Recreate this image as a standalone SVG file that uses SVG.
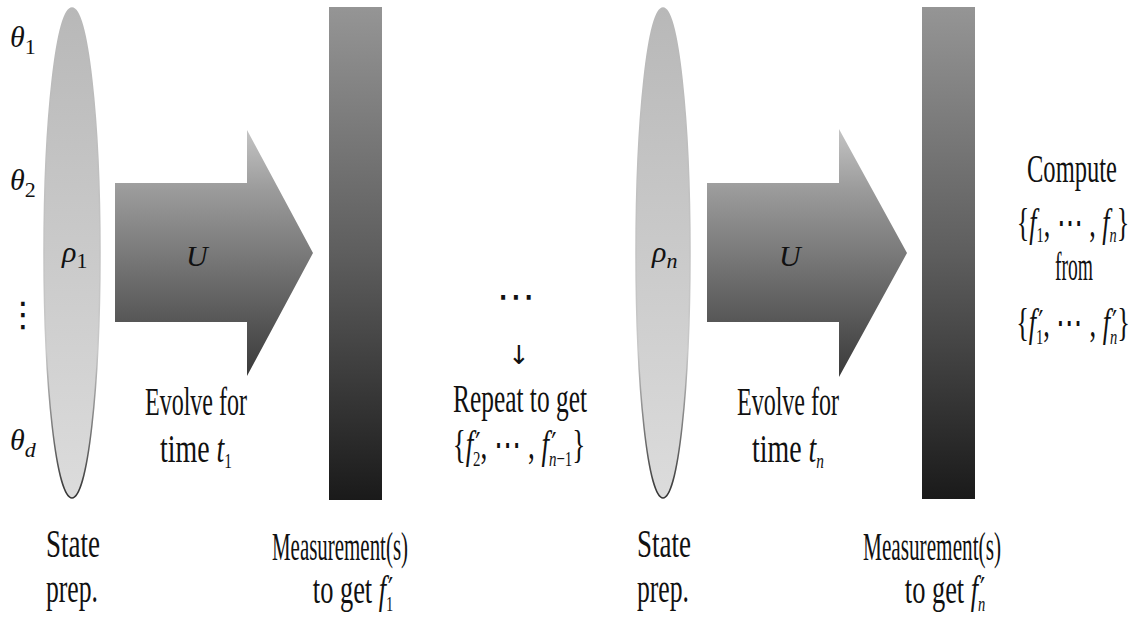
<svg xmlns="http://www.w3.org/2000/svg" width="1146" height="622" viewBox="0 0 1146 622">
<style>
.t{font-family:"Liberation Serif","Times New Roman",serif;font-size:40px;fill:#111}
.m{font-family:"Liberation Serif","Times New Roman",serif;font-style:italic;font-size:30px;fill:#111}
.i{font-style:italic}
.sb{font-size:22px;font-style:normal}
.si{font-size:22px;font-style:italic}
.pr{font-family:"DejaVu Sans",sans-serif;font-size:34px;font-style:normal}
.sym{font-family:"DejaVu Sans",sans-serif;fill:#111}
.ell{fill:url(#gEll);stroke:url(#gEllS);stroke-width:1.5}
.arr{fill:url(#gArr)}
.bar{fill:url(#gBar)}
</style>
<defs>
<linearGradient id="gEll" x1="0" y1="0" x2="0" y2="1">
<stop offset="0" stop-color="#b8b8b8"/>
<stop offset="1" stop-color="#dcdcdc"/>
</linearGradient>
<linearGradient id="gEllS" x1="0" y1="0" x2="0" y2="1">
<stop offset="0" stop-color="#b8b8b8"/>
<stop offset="0.7" stop-color="#c8c8c8"/>
<stop offset="1" stop-color="#333"/>
</linearGradient>
<linearGradient id="gArr" x1="0" y1="0" x2="0" y2="1">
<stop offset="0" stop-color="#c4c4c4"/>
<stop offset="0.25" stop-color="#9a9a9a"/>
<stop offset="1" stop-color="#3a3a3a"/>
</linearGradient>
<linearGradient id="gBar" x1="0" y1="0" x2="0" y2="1">
<stop offset="0" stop-color="#959595"/>
<stop offset="0.5" stop-color="#5e5e5e"/>
<stop offset="1" stop-color="#1a1a1a"/>
</linearGradient>
</defs>

<g id="params">
<text class="m" x="10" y="47">θ<tspan class="sb" dy="7">1</tspan></text>
<text class="m" x="10" y="190">θ<tspan class="sb" dy="7">2</tspan></text>
<text class="sym" x="6" y="326" font-size="34">⋮</text>
<text class="m" x="10" y="450">θ<tspan class="si" dy="7">d</tspan></text>
</g>

<g id="state1">
<ellipse class="ell" cx="72" cy="253" rx="28" ry="245"/>
<text class="m" x="62" y="262">ρ<tspan class="sb" dy="6">1</tspan></text>
<text class="t" x="73" y="557" text-anchor="middle" textLength="54" lengthAdjust="spacingAndGlyphs">State</text>
<text class="t" x="72" y="602" text-anchor="middle" textLength="52" lengthAdjust="spacingAndGlyphs">prep.</text>
</g>

<g id="evolve1">
<polygon class="arr" points="115,183 247,183 247,130 313,253 247,376 247,322 115,322"/>
<text class="m" x="186" y="266" font-size="34">U</text>
<text class="t" x="196" y="415" text-anchor="middle" textLength="102" lengthAdjust="spacingAndGlyphs">Evolve for</text>
<text class="t" x="196" y="462" text-anchor="middle" textLength="72" lengthAdjust="spacingAndGlyphs">time <tspan class="i">t</tspan><tspan class="sb" dy="6">1</tspan></text>
</g>

<g id="measure1">
<rect class="bar" x="329" y="7" width="53" height="493"/>
<text class="t" x="340" y="560" text-anchor="middle" textLength="136" lengthAdjust="spacingAndGlyphs">Measurement(s)</text>
<text class="t" text-anchor="middle" transform="translate(353,603) scale(0.66,1)">to get <tspan class="i">f</tspan><tspan class="pr" dx="3" dy="-1">′</tspan><tspan class="sb" dx="-11" dy="9">1</tspan></text>
</g>

<g id="repeat">
<text class="sym" x="516" y="309" font-size="38" text-anchor="middle">⋯</text>
<text class="sym" x="519" y="364" font-size="26" text-anchor="middle">↓</text>
<text class="t" x="520" y="412" text-anchor="middle" textLength="134" lengthAdjust="spacingAndGlyphs">Repeat to get</text>
<text class="t" text-anchor="middle" transform="translate(519,458) scale(0.68,1)">{<tspan class="i">f</tspan><tspan class="pr" dx="3" dy="-1">′</tspan><tspan class="sb" dx="-11" dy="9">2</tspan><tspan dy="-8">, ⋯ , </tspan><tspan class="i">f</tspan><tspan class="pr" dx="3" dy="-1">′</tspan><tspan class="si" dx="-11" dy="9">n</tspan><tspan class="sb">−1</tspan><tspan dy="-8">}</tspan></text>
</g>

<g id="stateN">
<ellipse class="ell" cx="663" cy="253" rx="27" ry="245"/>
<text class="m" x="652" y="262">ρ<tspan class="si" dy="6">n</tspan></text>
<text class="t" x="664" y="557" text-anchor="middle" textLength="54" lengthAdjust="spacingAndGlyphs">State</text>
<text class="t" x="663" y="602" text-anchor="middle" textLength="52" lengthAdjust="spacingAndGlyphs">prep.</text>
</g>

<g id="evolveN">
<polygon class="arr" points="707,183 839,183 839,129 907,253 839,377 839,322 707,322"/>
<text class="m" x="779" y="266" font-size="34">U</text>
<text class="t" x="788" y="415" text-anchor="middle" textLength="102" lengthAdjust="spacingAndGlyphs">Evolve for</text>
<text class="t" x="788" y="462" text-anchor="middle" textLength="72" lengthAdjust="spacingAndGlyphs">time <tspan class="i">t</tspan><tspan class="si" dy="6">n</tspan></text>
</g>

<g id="measureN">
<rect class="bar" x="922" y="7" width="53" height="492"/>
<text class="t" x="932" y="560" text-anchor="middle" textLength="138" lengthAdjust="spacingAndGlyphs">Measurement(s)</text>
<text class="t" text-anchor="middle" transform="translate(945,603) scale(0.66,1)">to get <tspan class="i">f</tspan><tspan class="pr" dx="3" dy="-1">′</tspan><tspan class="si" dx="-11" dy="9">n</tspan></text>
</g>

<g id="compute">
<text class="t" x="1072" y="182" text-anchor="middle" textLength="90" lengthAdjust="spacingAndGlyphs">Compute</text>
<text class="t" text-anchor="middle" transform="translate(1073,236) scale(0.65,1)">{<tspan class="i">f</tspan><tspan class="sb" dy="6">1</tspan><tspan dy="-6">, ⋯ , </tspan><tspan class="i">f</tspan><tspan class="si" dy="6">n</tspan><tspan dy="-6">}</tspan></text>
<text class="t" x="1074" y="280" text-anchor="middle" textLength="38" lengthAdjust="spacingAndGlyphs">from</text>
<text class="t" text-anchor="middle" transform="translate(1073,336) scale(0.66,1)">{<tspan class="i">f</tspan><tspan class="pr" dx="3" dy="-1">′</tspan><tspan class="sb" dx="-11" dy="9">1</tspan><tspan dy="-8">, ⋯ , </tspan><tspan class="i">f</tspan><tspan class="pr" dx="3" dy="-1">′</tspan><tspan class="si" dx="-11" dy="9">n</tspan><tspan dy="-8">}</tspan></text>
</g>

<g id="connectors"></g>
</svg>
